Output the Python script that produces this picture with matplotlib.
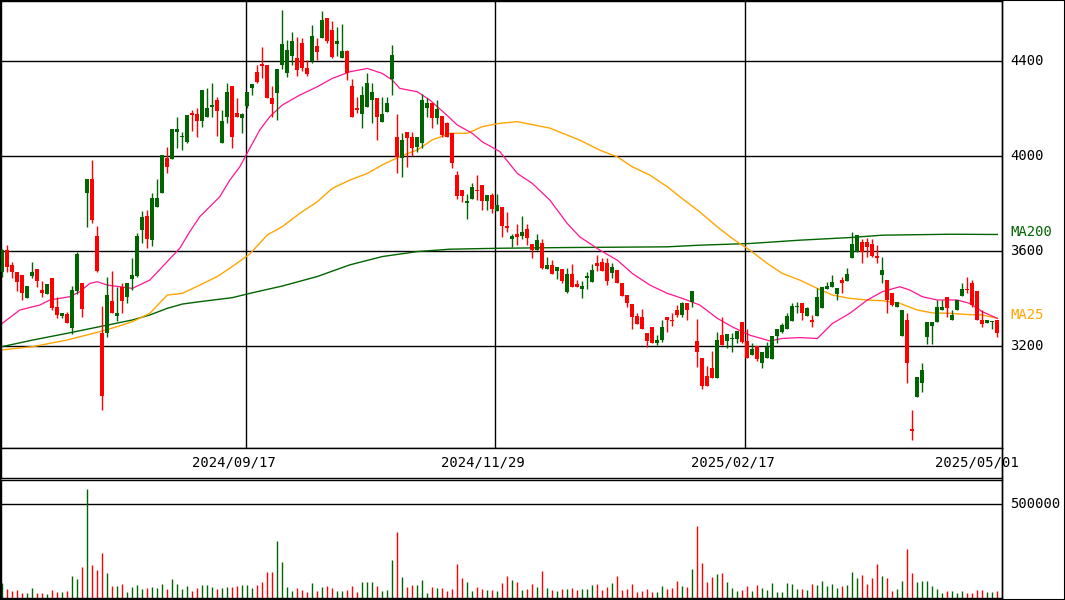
import numpy as np
import matplotlib
matplotlib.use("Agg")
import matplotlib.pyplot as plt

# ---- daily OHLC ----
opens = [3513,3605,3542,3513,3500,3404,3495,3525,3436,3418,3488,3366,3328,3335,3278,3430,3464,3843,3904,3665,
         3254,3254,3390,3325,3448,3405,3483,3497,3689,3748,3647,3784,3843,3991,3986,4100,4079,4061,4180,4176,
         4149,4166,4206,4236,4056,4163,4295,4180,4159,4211,4285,4355,4388,4383,4246,4267,4383,4351,4423,4411,
         4477,4369,4402,4463,4498,4580,4531,4470,4411,4442,4295,4201,4176,4205,4236,4243,4142,4187,4323,4082,
         3991,4101,4082,4040,4056,4201,4222,4159,4169,4138,4099,3920,3857,3801,3818,3857,3878,3811,3836,3769,
         3784,3705,3653,3674,3663,3692,3629,3604,3636,3523,3541,3517,3523,3429,3503,3461,3439,3485,3471,3548,
         3555,3548,3509,3520,3464,3415,3377,3326,3323,3256,3279,3214,3225,3321,3312,3352,3331,3380,3387,3221,
         3152,3074,3106,3067,3246,3222,3228,3232,3300,3221,3162,3200,3127,3148,3145,3242,3260,3274,3307,3366,
         3380,3326,3312,3326,3359,3439,3450,3419,3478,3475,3573,3597,3639,3639,3629,3579,3499,3478,3422,3366,
         3244,3312,2849,2987,3046,3239,3284,3302,3354,3408,3309,3352,3410,3439,3467,3433,3312,3298,3302,3309]
closes = [3605,3535,3513,3471,3422,3453,3513,3476,3422,3460,3359,3331,3338,3296,3436,3588,3355,3904,3731,3518,
          2990,3415,3338,3338,3392,3464,3500,3664,3742,3651,3822,3822,4003,3955,4113,4113,4086,4173,4173,4149,
          4278,4201,4215,4191,4148,4268,4079,4163,4177,4268,4303,4313,4381,4246,4219,4367,4472,4447,4484,4362,
          4369,4345,4505,4440,4573,4486,4416,4484,4442,4348,4163,4194,4257,4306,4268,4163,4177,4225,4426,3998,
          4068,4075,4036,4082,4236,4222,4159,4198,4089,4079,3972,3833,3833,3811,3869,3853,3811,3836,3776,3794,
          3705,3698,3663,3660,3681,3657,3604,3646,3530,3541,3502,3531,3475,3503,3450,3447,3453,3495,3520,3538,
          3517,3475,3534,3464,3410,3382,3321,3295,3274,3222,3214,3225,3279,3312,3307,3331,3380,3352,3432,3176,
          3033,3033,3067,3225,3204,3250,3236,3263,3218,3152,3186,3145,3176,3197,3242,3270,3288,3326,3368,3369,
          3338,3359,3302,3408,3450,3453,3471,3443,3467,3503,3629,3667,3597,3618,3579,3569,3520,3394,3373,3387,
          3352,3127,2844,3068,3099,3302,3302,3366,3363,3359,3330,3394,3439,3436,3373,3309,3295,3309,3307,3256]
highs = [3610,3626,3556,3513,3500,3453,3556,3525,3474,3462,3488,3408,3338,3345,3453,3598,3464,3904,3984,3706,
         3369,3493,3518,3450,3464,3464,3572,3675,3770,3773,3843,3904,4003,4040,4113,4166,4103,4173,4194,4201,
         4278,4285,4306,4247,4194,4306,4295,4246,4180,4268,4303,4383,4461,4383,4295,4367,4615,4489,4524,4503,
         4496,4404,4552,4496,4611,4580,4569,4545,4556,4447,4323,4250,4295,4348,4306,4243,4250,4250,4468,4176,
         4099,4101,4103,4082,4260,4243,4222,4236,4169,4145,4099,3937,3857,3840,3888,3920,3878,3836,3846,3840,
         3784,3765,3674,3714,3747,3714,3629,3674,3653,3576,3562,3531,3523,3527,3545,3478,3475,3513,3545,3583,
         3573,3573,3548,3520,3464,3415,3377,3338,3356,3256,3279,3246,3312,3321,3338,3373,3384,3380,3432,3314,
         3152,3116,3179,3260,3324,3250,3256,3263,3300,3274,3214,3200,3176,3218,3242,3270,3298,3338,3380,3387,
         3380,3366,3330,3443,3450,3471,3499,3443,3492,3527,3681,3667,3653,3657,3649,3625,3576,3478,3422,3387,
         3352,3340,2931,3068,3130,3302,3302,3394,3394,3408,3354,3394,3464,3489,3478,3433,3354,3309,3307,3309]
lows = [3492,3513,3485,3432,3394,3404,3485,3448,3408,3418,3352,3320,3320,3296,3250,3420,3324,3703,3717,3514,
        2931,3240,3338,3307,3341,3380,3436,3490,3636,3612,3622,3784,3843,3927,3986,4033,4026,4054,4107,4079,
        4124,4166,4166,4085,4056,4138,4033,4163,4099,4201,4257,4306,4327,4246,4163,4152,4365,4331,4383,4337,
        4358,4337,4390,4404,4498,4475,4411,4421,4411,4320,4163,4180,4117,4205,4141,4068,4142,4187,4257,3927,
        3911,3955,4000,4019,4033,4166,4117,4135,4082,4079,3948,3819,3808,3734,3818,3815,3773,3773,3759,3769,
        3660,3681,3618,3625,3649,3625,3573,3604,3523,3523,3502,3481,3467,3422,3450,3447,3403,3439,3471,3517,
        3517,3457,3485,3464,3410,3366,3274,3295,3274,3197,3214,3204,3218,3260,3284,3324,3324,3312,3363,3113,
        3018,3033,3067,3067,3204,3194,3176,3214,3214,3152,3162,3138,3106,3148,3145,3211,3256,3274,3307,3338,
        3312,3326,3281,3326,3359,3439,3450,3396,3422,3475,3573,3597,3548,3576,3576,3551,3467,3340,3370,3366,
        3244,3043,2804,2987,3008,3208,3208,3302,3354,3324,3309,3352,3410,3422,3366,3309,3281,3298,3274,3239]
volume_k = [79,48,37,42,26,26,53,26,26,21,42,32,32,37,116,100,164,581,174,148,
            238,132,63,63,74,32,58,69,48,53,58,53,74,48,100,74,48,63,37,53,
            69,69,58,48,53,58,58,63,69,69,53,69,85,137,137,301,190,58,37,53,
            42,32,79,37,58,63,53,37,37,42,63,32,85,85,85,63,37,42,201,349,
            111,58,69,69,95,26,58,53,53,37,48,180,106,85,37,58,48,42,42,37,
            79,116,95,85,42,48,74,58,143,53,42,37,48,48,53,42,48,48,69,74,
            42,58,79,116,42,48,74,32,37,48,32,32,63,48,53,90,63,58,153,380,
            185,85,111,127,132,85,53,37,42,63,37,69,53,42,79,32,32,79,74,48,
            48,42,74,69,90,63,74,53,63,69,137,106,122,74,106,180,116,106,37,48,
            90,259,132,85,90,90,63,48,26,37,37,26,37,26,26,42,42,32,32,37]

# ---- moving averages, sampled (candle index, price) ----
ma25_idx = [0,3.5,7.5,9.5,13.5,15.5,17.5,19,21,23.5,26,29.5,33,35.5,37.5,39.5,41.5,43.5,45.5,47.5,49.5,
            51.5,53.5,56,59.5,63,66,69.5,73,76,78,79.5,83,85.5,88.5,91,94,96,99.5,
            103,106,109.5,113,115.5,119.5,123,126,129.5,133,136,139.5,143,146,149.5,
            153.5,156,159.5,163,166,169.5,173,176,179.5,181.5,184,187,191,193.5,196,199]
ma25_val = [3296,3352,3373,3394,3408,3429,3464,3471,3457,3450,3443,3478,3556,3612,3682,3745,3787,3829,3899,3955,4033,
            4110,4166,4215,4257,4292,4327,4355,4369,4348,4320,4285,4271,4236,4180,4131,4096,4060,4019,
            3927,3885,3815,3716,3660,3604,3562,3506,3457,3422,3401,3373,3317,3281,3246,
            3222,3232,3236,3232,3295,3338,3394,3429,3450,3436,3408,3394,3394,3380,3345,3317]
ma75_idx = [0,6.2,13,19,23,26,29.5,33,36,39.5,43,46,49.5,53,56,59.5,63,66,69.5,73,76,79.5,83,86,89.5,93,96,99.5,
            103,109.5,115.5,119.5,123,126,129.5,133,136,139.5,143,146,149.5,153,156,159.5,163,166,169.5,173,
            176,179.5,183,186,189.5,193,196,199]
ma75_val = [3184,3198,3226,3258,3282,3303,3338,3415,3422,3457,3493,3535,3588,3668,3703,3759,3808,3864,3899,3927,
            3963,3998,4026,4068,4096,4096,4124,4138,4145,4118,4067,4025,3997,3955,3920,3871,3821,3765,3702,3653,
            3604,3548,3506,3478,3443,3415,3401,3394,3391,3380,3352,3340,3338,3333,3331,3317]
ma200_idx = [0,6.2,13,19.5,26,29.5,33,36,39.5,46,49.5,56,63,69.5,76,83,89.5,99.5,113,133,139.5,149.5,159.5,169.5,176,189.5,199]
ma200_val = [3198,3226,3254,3282,3310,3331,3359,3377,3387,3404,3422,3453,3493,3542,3577,3598,3608,3612,3615,3618,3625,
             3632,3646,3657,3667,3671,3670]

date_pos = [48.74, 98.54, 148.54]
date_labels = ["2024/09/17", "2024/11/29", "2025/02/17", "2025/05/01"]
price_ticks = [3200, 3600, 4000, 4400]

UP, DOWN = "#006400", "#ff0000"
opens, closes, highs, lows = map(np.array, (opens, closes, highs, lows))
vol = np.array(volume_k) * 1000
n = len(closes)
x = np.arange(n)
up = closes >= opens
cols = np.where(up, UP, DOWN)
W, H = 1065, 600
XL = (-0.26, 199.94)

fig = plt.figure(figsize=(W / 100, H / 100), dpi=100)
mono = "DejaVu Sans Mono"

ax = fig.add_axes([1 / W, (H - 448) / H, 1001 / W, 447 / H])
ax.set_xlim(*XL); ax.set_ylim(2771, 4653)
for p in price_ticks:
    ax.axhline(p, color="black", lw=1, zorder=1)
    ax.text(1.008, (p - 2771) / (4653 - 2771), str(p), transform=ax.transAxes,
            va="center", ha="left", fontsize=10, family=mono)
for d in date_pos:
    ax.axvline(d, color="black", lw=1, zorder=1)
ax.plot(ma200_idx, ma200_val, color="#006400", lw=1, zorder=2)
ax.plot(ma75_idx, ma75_val, color="#ffa500", lw=1, zorder=2)
ax.plot(ma25_idx, ma25_val, color="#ff1493", lw=0.9, zorder=2)
ax.vlines(x, lows, highs, colors=cols, lw=1, zorder=3)
body = np.maximum(np.abs(closes - opens), 4)
ax.bar(x, body, bottom=np.minimum(opens, closes), width=0.8, color=cols, lw=0, zorder=4)
ax.text(1.008, (3680 - 2771) / (4653 - 2771), "MA200", transform=ax.transAxes, va="center",
        ha="left", fontsize=10, family=mono, color="#006400")
ax.text(1.008, (3330 - 2771) / (4653 - 2771), "MA25", transform=ax.transAxes, va="center",
        ha="left", fontsize=10, family=mono, color="#ffa500")
ax.set_xticks([]); ax.set_yticks([])

# date strip
axd = fig.add_axes([1 / W, (H - 478) / H, 1001 / W, 30 / H])
axd.set_xlim(*XL); axd.set_ylim(0, 1)
for d, lab in zip(date_pos + [197.4], date_labels):
    axd.text(d - 2.4, 0.5, lab, ha="center", va="center", fontsize=10, family=mono)
axd.set_xticks([]); axd.set_yticks([])

# volume
axv = fig.add_axes([1 / W, 2 / H, 1001 / W, 118 / H])
axv.set_xlim(*XL); axv.set_ylim(0, 627000)
axv.axhline(500000, color="black", lw=1)
axv.vlines(x, 0, vol, colors=cols, lw=1)
axv.text(1.008, 500000 / 627000, "500000", transform=axv.transAxes, va="center",
         ha="left", fontsize=10, family=mono)
axv.set_xticks([]); axv.set_yticks([])

for a in (ax, axd, axv):
    for s in a.spines.values():
        s.set_linewidth(1)
fig.add_artist(plt.Rectangle((0, 0), 1, 1, transform=fig.transFigure, fill=False, ec="black", lw=1.5))
fig.add_artist(plt.Line2D([1002 / W] * 2, [0, 1], transform=fig.transFigure, color="black", lw=1))

fig.savefig("out.png", dpi=100)
